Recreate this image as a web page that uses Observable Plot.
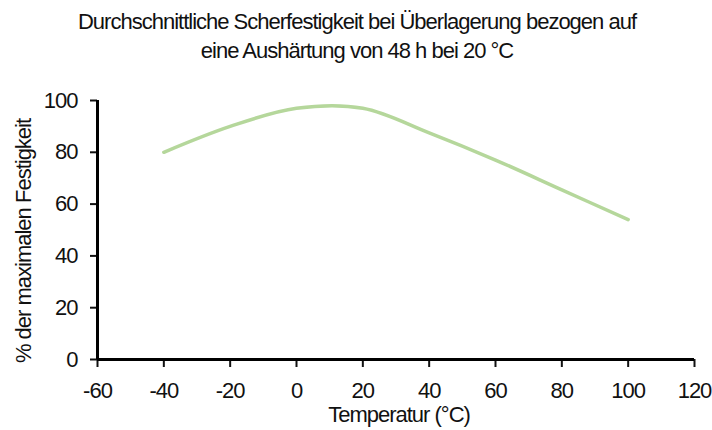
<!DOCTYPE html>
<html>
<head>
<meta charset="utf-8">
<script src="https://cdn.jsdelivr.net/npm/d3@7"></script>
<script src="https://cdn.jsdelivr.net/npm/@observablehq/plot@0.6"></script>
<style>
  body { margin: 0; background: #fff; font-family: "Liberation Sans", Arial, sans-serif; overflow: hidden; }
  #title { height: 72px; text-align: center; font-size: 22px; line-height: 29px; color: #111; padding-top: 7px; box-sizing: border-box; letter-spacing: -1px; width: 712px; padding-left: 2px; }
  svg { font-family: "Liberation Sans", Arial, sans-serif; overflow: visible; }
</style>
</head>
<body>
<div id="title">Durchschnittliche Scherfestigkeit bei Überlagerung bezogen auf<br>eine Aushärtung von 48 h bei 20 °C</div>
<div id="chart"></div>
<script>
const temperatures = [-40, -20, 0, 20, 40, 60, 80, 100];
const strength = [80, 90, 97, 97, 87.5, 77, 65.5, 54];
const xTicks = [-60, -40, -20, 0, 20, 40, 60, 80, 100, 120];
const yTicks = [0, 20, 40, 60, 80, 100];
const xLabel = "Temperatur (°C)";
const yLabel = "% der maximalen Festigkeit";

const data = temperatures.map((t, i) => ({t, v: strength[i]}));
const fmt = d => String(d);

const chart = Plot.plot({
  width: 712,
  height: 358,
  marginLeft: 97,
  marginRight: 18,
  marginTop: 28,
  marginBottom: 71,
  style: {fontSize: "22px", color: "#111", letterSpacing: "-1px"},
  x: {domain: [-60, 120]},
  y: {domain: [0, 100]},
  marks: [
    Plot.axisX({ticks: xTicks, tickFormat: fmt, tickSize: 8, tickPadding: 15, strokeWidth: 2, fontSize: 22, label: null}),
    Plot.axisY({ticks: yTicks, tickFormat: fmt, tickSize: 7, tickPadding: 13, strokeWidth: 2, fontSize: 22, label: null}),
    Plot.ruleY([0], {stroke: "#000", strokeWidth: 3}),
    Plot.ruleX([-60], {stroke: "#000", strokeWidth: 3}),
    Plot.line(data, {x: "t", y: "v", curve: "catmull-rom", stroke: "#b5d79b", strokeWidth: 3.5}),
    Plot.text([xLabel], {frameAnchor: "bottom", dy: 62, text: d => d, fontSize: 22, dx: 3}),
    Plot.text([yLabel], {frameAnchor: "left", textAnchor: "middle", dx: -74, dy: 11, rotate: -90, text: d => d, fontSize: 22})
  ]
});
document.getElementById("chart").appendChild(chart);
</script>
</body>
</html>
